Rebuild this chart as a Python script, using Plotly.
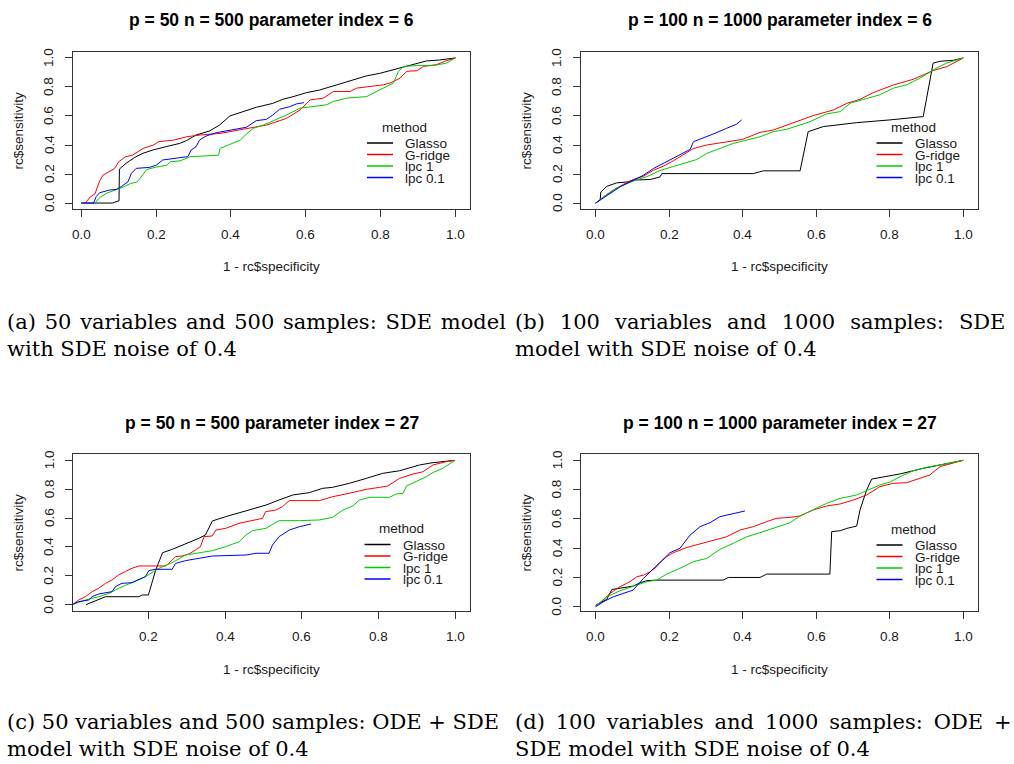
import plotly.graph_objects as go

W, H = 1014, 764

# ---- ROC curves: p = 50, n = 500, parameter index = 6 ----
p1_glasso_x = [0.0, 0.083, 0.101, 0.102, 0.120, 0.143, 0.165, 0.192, 0.227, 0.263, 0.281, 0.307, 0.343, 0.370, 0.397, 0.414, 0.441, 0.468, 0.512, 0.539, 0.566, 0.602, 0.637, 0.673, 0.709, 0.762, 0.798, 0.833, 0.869, 0.905, 0.922, 0.958, 1.0]
p1_glasso_y = [0.0, 0.0, 0.016, 0.234, 0.274, 0.315, 0.343, 0.366, 0.389, 0.411, 0.430, 0.469, 0.497, 0.538, 0.600, 0.614, 0.641, 0.660, 0.687, 0.715, 0.733, 0.761, 0.779, 0.807, 0.830, 0.876, 0.894, 0.917, 0.940, 0.963, 0.979, 0.986, 1.0]
p1_gridge_x = [0.011, 0.024, 0.037, 0.048, 0.058, 0.075, 0.089, 0.100, 0.118, 0.137, 0.165, 0.193, 0.207, 0.247, 0.282, 0.318, 0.371, 0.407, 0.443, 0.496, 0.549, 0.585, 0.612, 0.647, 0.674, 0.719, 0.736, 0.781, 0.808, 0.825, 0.852, 0.870, 0.897, 0.915, 0.950, 0.977, 1.0]
p1_gridge_y = [0.0, 0.042, 0.065, 0.145, 0.192, 0.215, 0.238, 0.284, 0.319, 0.330, 0.376, 0.400, 0.423, 0.434, 0.457, 0.469, 0.480, 0.497, 0.515, 0.538, 0.584, 0.642, 0.711, 0.723, 0.769, 0.769, 0.792, 0.808, 0.815, 0.827, 0.861, 0.908, 0.912, 0.942, 0.954, 0.982, 1.0]
p1_lpc1_x = [0.037, 0.050, 0.070, 0.113, 0.131, 0.149, 0.157, 0.175, 0.202, 0.229, 0.238, 0.264, 0.291, 0.336, 0.367, 0.371, 0.407, 0.425, 0.443, 0.460, 0.487, 0.514, 0.549, 0.585, 0.621, 0.656, 0.674, 0.710, 0.763, 0.781, 0.808, 0.834, 0.848, 0.861, 0.897, 0.941, 0.977, 1.0]
p1_lpc1_y = [0.0, 0.040, 0.070, 0.111, 0.134, 0.145, 0.169, 0.231, 0.249, 0.261, 0.284, 0.291, 0.319, 0.323, 0.330, 0.376, 0.411, 0.434, 0.480, 0.515, 0.538, 0.568, 0.607, 0.654, 0.665, 0.677, 0.700, 0.723, 0.734, 0.757, 0.792, 0.827, 0.908, 0.942, 0.947, 0.947, 0.965, 1.0]
p1_lpc01_x = [0.0, 0.033, 0.040, 0.049, 0.076, 0.094, 0.107, 0.125, 0.134, 0.147, 0.183, 0.201, 0.218, 0.254, 0.285, 0.294, 0.307, 0.316, 0.334, 0.361, 0.406, 0.441, 0.468, 0.495, 0.512, 0.530, 0.557, 0.575, 0.595]
p1_lpc01_y = [0.0, 0.0, 0.044, 0.071, 0.090, 0.094, 0.113, 0.147, 0.205, 0.239, 0.246, 0.262, 0.297, 0.308, 0.320, 0.366, 0.389, 0.434, 0.462, 0.485, 0.508, 0.522, 0.568, 0.577, 0.607, 0.646, 0.664, 0.683, 0.692]

# ---- ROC curves: p = 100, n = 1000, parameter index = 6 ----
p2_glasso_x = [0.0, 0.012, 0.014, 0.030, 0.057, 0.084, 0.107, 0.148, 0.175, 0.180, 0.429, 0.456, 0.556, 0.578, 0.619, 0.665, 0.710, 0.800, 0.891, 0.918, 0.937, 0.973, 1.0]
p2_glasso_y = [0.0, 0.020, 0.076, 0.115, 0.139, 0.145, 0.159, 0.162, 0.180, 0.203, 0.203, 0.222, 0.222, 0.492, 0.527, 0.543, 0.554, 0.573, 0.596, 0.965, 0.977, 0.984, 1.0]
p2_gridge_x = [0.0, 0.021, 0.048, 0.075, 0.102, 0.130, 0.157, 0.184, 0.211, 0.238, 0.266, 0.302, 0.338, 0.374, 0.400, 0.429, 0.447, 0.483, 0.510, 0.556, 0.592, 0.646, 0.683, 0.719, 0.755, 0.810, 0.864, 0.891, 0.918, 0.955, 1.0]
p2_gridge_y = [0.0, 0.042, 0.088, 0.129, 0.162, 0.185, 0.226, 0.254, 0.291, 0.330, 0.376, 0.400, 0.416, 0.430, 0.439, 0.469, 0.487, 0.503, 0.527, 0.567, 0.603, 0.641, 0.687, 0.715, 0.761, 0.814, 0.853, 0.883, 0.913, 0.940, 1.0]
p2_lpc1_x = [0.0, 0.030, 0.057, 0.084, 0.111, 0.139, 0.175, 0.211, 0.238, 0.275, 0.302, 0.338, 0.374, 0.411, 0.447, 0.483, 0.519, 0.556, 0.583, 0.628, 0.665, 0.692, 0.737, 0.773, 0.810, 0.846, 0.882, 0.905, 0.928, 0.955, 1.0]
p2_lpc1_y = [0.0, 0.060, 0.105, 0.135, 0.160, 0.182, 0.224, 0.252, 0.273, 0.300, 0.342, 0.376, 0.411, 0.434, 0.457, 0.492, 0.508, 0.538, 0.561, 0.614, 0.630, 0.688, 0.723, 0.746, 0.792, 0.815, 0.861, 0.896, 0.931, 0.965, 1.0]
p2_lpc01_x = [0.0, 0.030, 0.066, 0.102, 0.130, 0.157, 0.184, 0.211, 0.238, 0.257, 0.266, 0.284, 0.320, 0.356, 0.383, 0.397]
p2_lpc01_y = [0.0, 0.053, 0.111, 0.157, 0.192, 0.238, 0.273, 0.307, 0.342, 0.370, 0.423, 0.439, 0.476, 0.515, 0.543, 0.573]

# ---- ROC curves: p = 50, n = 500, parameter index = 27 ----
p3_glasso_x = [0.036, 0.052, 0.069, 0.087, 0.104, 0.174, 0.183, 0.199, 0.218, 0.236, 0.261, 0.296, 0.331, 0.348, 0.366, 0.401, 0.436, 0.471, 0.506, 0.540, 0.576, 0.619, 0.654, 0.680, 0.724, 0.768, 0.811, 0.855, 0.907, 0.942, 0.977, 1.0]
p3_glasso_y = [0.0, 0.018, 0.032, 0.055, 0.055, 0.055, 0.067, 0.067, 0.240, 0.360, 0.383, 0.420, 0.460, 0.483, 0.580, 0.610, 0.637, 0.667, 0.690, 0.725, 0.760, 0.776, 0.806, 0.813, 0.841, 0.875, 0.910, 0.928, 0.968, 0.984, 0.995, 1.0]
p3_gridge_x = [0.0, 0.017, 0.034, 0.052, 0.069, 0.087, 0.104, 0.121, 0.139, 0.156, 0.174, 0.244, 0.252, 0.270, 0.287, 0.305, 0.322, 0.335, 0.344, 0.366, 0.375, 0.401, 0.436, 0.471, 0.497, 0.505, 0.532, 0.549, 0.567, 0.646, 0.680, 0.715, 0.742, 0.768, 0.803, 0.824, 0.855, 0.890, 0.916, 0.942, 0.977, 1.0]
p3_gridge_y = [0.0, 0.032, 0.055, 0.090, 0.113, 0.148, 0.171, 0.206, 0.229, 0.252, 0.268, 0.268, 0.286, 0.333, 0.337, 0.351, 0.379, 0.402, 0.471, 0.476, 0.517, 0.529, 0.564, 0.582, 0.598, 0.644, 0.656, 0.679, 0.721, 0.721, 0.748, 0.767, 0.783, 0.799, 0.813, 0.822, 0.875, 0.905, 0.921, 0.968, 0.991, 1.0]
p3_lpc1_x = [0.0, 0.034, 0.069, 0.096, 0.121, 0.156, 0.191, 0.227, 0.261, 0.296, 0.331, 0.366, 0.401, 0.436, 0.454, 0.471, 0.506, 0.532, 0.540, 0.593, 0.646, 0.680, 0.707, 0.733, 0.750, 0.777, 0.829, 0.846, 0.864, 0.873, 0.899, 0.925, 0.942, 0.968, 1.0]
p3_lpc1_y = [0.0, 0.032, 0.055, 0.078, 0.113, 0.152, 0.194, 0.252, 0.291, 0.344, 0.360, 0.374, 0.402, 0.436, 0.483, 0.513, 0.529, 0.568, 0.582, 0.582, 0.587, 0.605, 0.656, 0.684, 0.725, 0.744, 0.744, 0.767, 0.771, 0.822, 0.852, 0.887, 0.915, 0.945, 1.0]
p3_lpc01_x = [0.0, 0.017, 0.043, 0.052, 0.069, 0.104, 0.113, 0.130, 0.156, 0.174, 0.191, 0.200, 0.218, 0.261, 0.270, 0.296, 0.331, 0.366, 0.454, 0.480, 0.514, 0.523, 0.540, 0.567, 0.593, 0.624]
p3_lpc01_y = [0.0, 0.021, 0.032, 0.055, 0.074, 0.090, 0.125, 0.148, 0.152, 0.171, 0.194, 0.236, 0.245, 0.245, 0.286, 0.305, 0.321, 0.337, 0.344, 0.356, 0.356, 0.413, 0.471, 0.517, 0.540, 0.559]

# ---- ROC curves: p = 100, n = 1000, parameter index = 27 ----
p4_glasso_x = [0.0, 0.012, 0.030, 0.044, 0.057, 0.075, 0.102, 0.121, 0.139, 0.166, 0.347, 0.361, 0.447, 0.465, 0.637, 0.642, 0.665, 0.683, 0.710, 0.719, 0.737, 0.751, 0.782, 0.828, 0.891, 0.937, 0.973, 1.0]
p4_glasso_y = [0.011, 0.027, 0.050, 0.118, 0.123, 0.130, 0.141, 0.164, 0.178, 0.182, 0.182, 0.200, 0.200, 0.223, 0.223, 0.513, 0.519, 0.535, 0.551, 0.661, 0.797, 0.872, 0.888, 0.907, 0.945, 0.968, 0.984, 1.0]
p4_gridge_x = [0.0, 0.021, 0.039, 0.066, 0.093, 0.112, 0.130, 0.148, 0.166, 0.175, 0.193, 0.211, 0.248, 0.284, 0.320, 0.356, 0.393, 0.429, 0.465, 0.492, 0.529, 0.556, 0.592, 0.628, 0.665, 0.701, 0.737, 0.773, 0.810, 0.846, 0.882, 0.909, 0.937, 0.973, 1.0]
p4_gridge_y = [0.005, 0.046, 0.091, 0.137, 0.171, 0.205, 0.216, 0.239, 0.273, 0.301, 0.342, 0.369, 0.405, 0.428, 0.451, 0.478, 0.524, 0.547, 0.581, 0.604, 0.610, 0.620, 0.661, 0.688, 0.702, 0.729, 0.763, 0.820, 0.843, 0.847, 0.877, 0.900, 0.957, 0.980, 1.0]
p4_lpc1_x = [0.0, 0.030, 0.066, 0.102, 0.139, 0.166, 0.193, 0.229, 0.266, 0.302, 0.338, 0.374, 0.411, 0.447, 0.483, 0.529, 0.556, 0.592, 0.628, 0.665, 0.710, 0.737, 0.773, 0.801, 0.828, 0.864, 0.909, 0.937, 0.973, 1.0]
p4_lpc1_y = [0.005, 0.068, 0.109, 0.137, 0.171, 0.182, 0.223, 0.262, 0.308, 0.330, 0.392, 0.433, 0.478, 0.506, 0.535, 0.574, 0.620, 0.665, 0.706, 0.740, 0.763, 0.793, 0.831, 0.852, 0.888, 0.929, 0.957, 0.968, 0.984, 1.0]
p4_lpc01_x = [0.0, 0.021, 0.048, 0.075, 0.102, 0.130, 0.157, 0.184, 0.202, 0.229, 0.257, 0.284, 0.311, 0.338, 0.374, 0.406]
p4_lpc01_y = [0.0, 0.034, 0.068, 0.091, 0.114, 0.194, 0.262, 0.323, 0.369, 0.399, 0.490, 0.547, 0.574, 0.615, 0.633, 0.654]

methods = ["Glasso", "G-ridge", "lpc 1", "lpc 0.1"]
colors = ["#000000", "#FF0000", "#00CD00", "#0000FF"]

panel_titles = [
    "p = 50 n = 500 parameter index = 6",
    "p = 100 n = 1000 parameter index = 6",
    "p = 50 n = 500 parameter index = 27",
    "p = 100 n = 1000 parameter index = 27",
]
x_label = "1 - rc$specificity"
y_label = "rc$sensitivity"

tick_values = [0.0, 0.2, 0.4, 0.6, 0.8, 1.0]
tick_labels = ["0.0", "0.2", "0.4", "0.6", "0.8", "1.0"]

THIN = "\u2009"
HAIR = "\u200a"
captions = [
    [(" " + HAIR).join("(a) 50 variables and 500 samples: SDE model".split()), "with SDE noise of 0.4"],
    [(" " + THIN + THIN).join("(b) 100 variables and 1000 samples: SDE".split()), "model with SDE noise of 0.4"],
    ["(c) 50 variables and 500 samples: ODE + SDE", "model with SDE noise of 0.4"],
    [(" " + THIN).join("(d) 100 variables and 1000 samples: ODE +".split()), "SDE model with SDE noise of 0.4"],
]

curves = [
    [(p1_glasso_x, p1_glasso_y), (p1_gridge_x, p1_gridge_y), (p1_lpc1_x, p1_lpc1_y), (p1_lpc01_x, p1_lpc01_y)],
    [(p2_glasso_x, p2_glasso_y), (p2_gridge_x, p2_gridge_y), (p2_lpc1_x, p2_lpc1_y), (p2_lpc01_x, p2_lpc01_y)],
    [(p3_glasso_x, p3_glasso_y), (p3_gridge_x, p3_gridge_y), (p3_lpc1_x, p3_lpc1_y), (p3_lpc01_x, p3_lpc01_y)],
    [(p4_glasso_x, p4_glasso_y), (p4_gridge_x, p4_gridge_y), (p4_lpc1_x, p4_lpc1_y), (p4_lpc01_x, p4_lpc01_y)],
]

# plot-box geometry in pixels: (left, right, top, bottom)
boxes = [(73, 470, 52, 209), (581, 978, 52, 209), (73, 470, 454, 611), (581, 978, 454, 611)]
x_ranges = [[-0.022, 1.039], [-0.040, 1.040], [0.002, 1.039], [-0.040, 1.040]]
y_ranges = [[-0.041, 1.041], [-0.041, 1.041], [-0.044, 1.044], [-0.029, 1.043]]
x_tick_sets = [tick_values, tick_values, tick_values[1:], tick_values]
# legend anchor: (left end of key segment, centre of "method")
legend_anchor = [(367, 127), (876.5, 127), (364.5, 528.5), (876.5, 529)]
caption_pos = [(5, 322), (513, 322), (5, 722), (513, 722)]

SANS = "Liberation Sans, Arial, sans-serif"
SERIF = "DejaVu Serif, serif"
INK = "#1a1a1a"
SMALL = 13.5


def px(x):
    return x / W


def py(y):
    return 1 - y / H


def label(text, x, y, xref="paper", yref="paper", size=SMALL, xanchor="center",
          angle=0, family=SANS, color=INK):
    return dict(text=text, x=x, y=y, xref=xref, yref=yref, showarrow=False,
                xanchor=xanchor, yanchor="middle", textangle=angle,
                font=dict(family=family, size=size, color=color))


fig = go.Figure()
annotations = []
shapes = []
layout_axes = {}

for k in range(4):
    sfx = "" if k == 0 else str(k + 1)
    left, right, top, bottom = boxes[k]
    for (cx, cy), name, col in zip(curves[k], methods, colors):
        fig.add_trace(go.Scatter(
            x=cx, y=cy, mode="lines", name=name,
            line=dict(color=col, width=1),
            xaxis="x" + sfx, yaxis="y" + sfx,
            hoverinfo="skip", showlegend=False,
        ))

    common = dict(
        showline=True, mirror=True, linecolor="#333333", linewidth=1,
        ticks="outside", ticklen=7, tickwidth=1, tickcolor="#333333",
        showgrid=False, zeroline=False, fixedrange=True,
        showticklabels=False,
    )
    layout_axes["xaxis" + sfx] = dict(
        common, domain=[px(left), px(right)], range=x_ranges[k],
        anchor="y" + sfx, tickvals=x_tick_sets[k],
    )
    layout_axes["yaxis" + sfx] = dict(
        common, domain=[py(bottom), py(top)], range=y_ranges[k],
        anchor="x" + sfx, tickvals=tick_values,
    )

    # tick labels: x below the box, y rotated to the left of it
    for v in x_tick_sets[k]:
        annotations.append(label(f"{v:.1f}", v, py(bottom + 25), xref="x" + sfx))
    for v, t in zip(tick_values, tick_labels):
        annotations.append(label(t, px(left - 24), v, yref="y" + sfx, angle=-90))

    cx_mid = (left + right) / 2
    cy_mid = (top + bottom) / 2
    annotations.append(label(f"<b>{panel_titles[k]}</b>", px(cx_mid), py(top - 31.5),
                             size=17.5, color="#000000"))
    annotations.append(label(x_label, px(cx_mid), py(bottom + 58)))
    annotations.append(label(y_label, px(left - 55), py(cy_mid), angle=-90))

    # legend without a frame
    lx, ly = legend_anchor[k]
    annotations.append(label("method", px(lx + 37), py(ly)))
    for i, (name, col) in enumerate(zip(methods, colors)):
        ey = ly + 16 + 11.5 * i
        shapes.append(dict(
            type="line", xref="paper", yref="paper", layer="above",
            x0=px(lx), x1=px(lx + 26), y0=py(ey), y1=py(ey),
            line=dict(color=col, width=1.5),
        ))
        annotations.append(label(name, px(lx + 36), py(ey + 0.5), xanchor="left"))

    # sub-figure caption, two lines
    cxp, cyp = caption_pos[k]
    for j, line in enumerate(captions[k]):
        annotations.append(label(line, px(cxp), py(cyp + 27 * j), size=21,
                                 xanchor="left", family=SERIF, color="#000000"))

fig.update_layout(
    width=W, height=H,
    margin=dict(l=0, r=0, t=0, b=0),
    paper_bgcolor="white", plot_bgcolor="white",
    showlegend=False,
    annotations=annotations,
    shapes=shapes,
    **layout_axes,
)

fig.write_html("out.html")
